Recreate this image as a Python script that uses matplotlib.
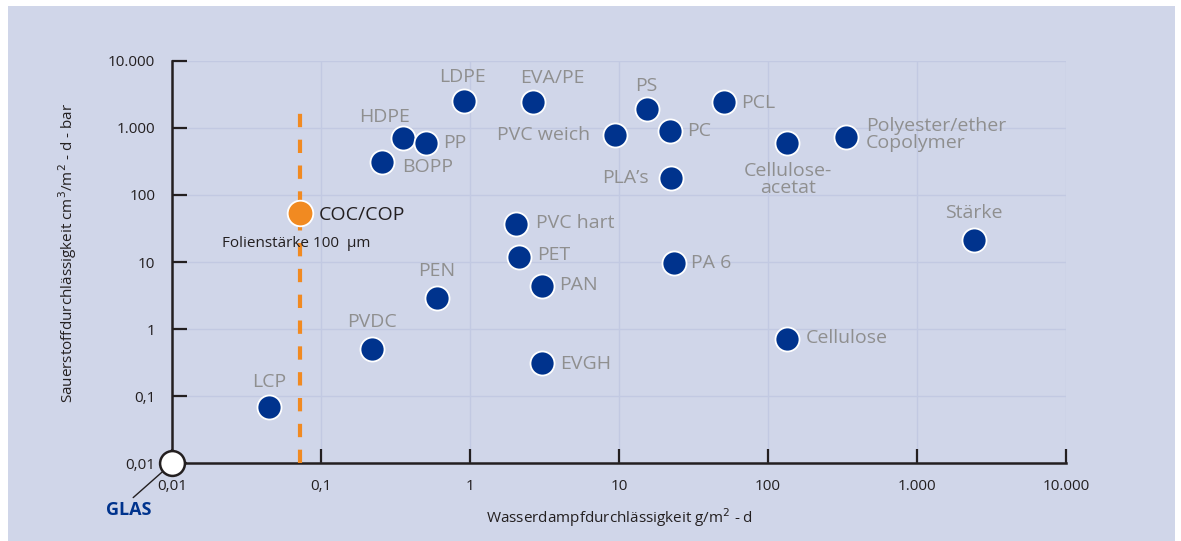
import matplotlib.pyplot as plt
from matplotlib.patches import Rectangle

plt.rcParams['font.family'] = ['Open Sans', 'DejaVu Sans']

# Wasserdampf- (x) und Sauerstoffdurchlässigkeit (y)
materials = ['LCP', 'PVDC', 'HDPE', 'BOPP', 'PP', 'LDPE', 'EVA/PE', 'PVC weich',
             'PS', 'PC', 'PCL', 'PLA\u2019s', 'Cellulose-\nacetat',
             'Polyester/ether\nCopolymer', 'Stärke', 'PVC hart', 'PET', 'PA 6',
             'PAN', 'PEN', 'EVGH', 'Cellulose']
water = [0.045, 0.22, 0.355, 0.256, 0.51, 0.91, 2.64, 9.35,
         15.3, 22.0, 51.0, 22.3, 134,
         335, 2400, 2.04, 2.14, 23.5,
         3.03, 0.60, 3.03, 134]
oxygen = [0.068, 0.505, 705, 306, 600, 2535, 2450, 781,
          1905, 896, 2400, 180, 588,
          737, 21.3, 37.2, 12.0, 9.57,
          4.39, 2.9, 0.316, 0.71]
# label offsets in pixels and alignment
label_pos = [(0, 25, 'center'), (0, 27, 'center'), (-18, 21, 'center'), (20, -5, 'left'),
             (17, 0, 'left'), (-1, 24, 'center'), (20, 24, 'center'), (-25, 0, 'right'),
             (0, 23, 'center'), (17, 0, 'left'), (17, -1, 'left'), (-22, 0, 'right'),
             (1, -36, 'center'), (20, 2, 'left'), (0, 27, 'center'), (20, 1, 'left'),
             (18, 2, 'left'), (17, 0, 'left'), (17, 1, 'left'), (0, 27, 'center'),
             (18, -1, 'left'), (19, 1, 'left')]

coc_x, coc_y = 0.0723, 53
dash_top = 1645

ticks = [0.01, 0.1, 1, 10, 100, 1000, 10000]
tick_labels = ['0,01', '0,1', '1', '10', '100', '1.000', '10.000']

bg = '#d0d6e9'
navy = '#00338d'
grey = '#8f8f8f'
orange = '#f18a21'
dark = '#231f20'

fig = plt.figure(figsize=(11.81, 5.41), dpi=100, facecolor='white')
fig.patches.append(Rectangle((8 / 1181, 0), 1167 / 1181, 535 / 541,
                             transform=fig.transFigure, facecolor=bg,
                             edgecolor='none', zorder=-10))
ax = fig.add_axes([172 / 1181, 77.7 / 541, 894 / 1181, 402.6 / 541])
ax.set_facecolor('none')
ax.set_xscale('log')
ax.set_yscale('log')
ax.set_xlim(0.01, 10000)
ax.set_ylim(0.01, 10000)

ax.set_xticks(ticks, tick_labels)
ax.set_yticks(ticks, tick_labels)
ax.minorticks_off()
ax.grid(True, color='#c2c9e2', lw=1.0, zorder=0)
for s in ['top', 'right']:
    ax.spines[s].set_visible(False)
for s in ['left', 'bottom']:
    ax.spines[s].set_color(dark)
    ax.spines[s].set_linewidth(1.8)
ax.tick_params(axis='y', direction='in', length=11, width=1.6, color=dark,
               labelsize=11, labelcolor=dark, pad=12)
ax.tick_params(axis='x', direction='in', length=10, width=1.6, color=dark,
               labelsize=11, labelcolor=dark, pad=11)

ax.set_xlabel('Wasserdampfdurchlässigkeit g/m$^2$ - d', fontsize=11, color=dark)
ax.set_ylabel('Sauerstoffdurchlässigkeit cm$^3$/m$^2$ - d - bar', fontsize=11, color=dark)
ax.xaxis.set_label_coords(0.501, -0.136)
ax.yaxis.set_label_coords(-0.117, 0.523)
ax.xaxis.label.set_va('center')
ax.yaxis.label.set_va('center')

ax.scatter(water, oxygen, s=300, color=navy, edgecolor='white', linewidth=1.3, zorder=4)
for name, x, y, (dx, dy, ha) in zip(materials, water, oxygen, label_pos):
    ax.annotate(name, (x, y), xytext=(dx, dy), textcoords='offset pixels',
                ha=ha, va='center', fontsize=14, color=grey, linespacing=0.95, zorder=5)

ax.plot([coc_x, coc_x], [0.01, dash_top], color=orange, lw=3, dashes=(3.2, 3.0), zorder=3)
ax.scatter([coc_x], [coc_y], s=340, color=orange, edgecolor='white', linewidth=1.3, zorder=4)
ax.annotate('COC/COP', (coc_x, coc_y), xytext=(19, -2), textcoords='offset pixels',
            ha='left', va='center', fontsize=14, color=dark)
ax.annotate('Folienstärke 100  µm', (coc_x, coc_y), xytext=(-78, -30), textcoords='offset pixels',
            ha='left', va='center', fontsize=11, color=dark)

ax.scatter([0.01], [0.01], s=320, color='white', edgecolor=dark, linewidth=1.8,
           zorder=6, clip_on=False)
glas = ax.annotate('GLAS', (0.01, 0.01), xytext=(-43, -47), textcoords='offset pixels',
                   ha='center', va='center', fontsize=13, fontweight='bold', color=navy,
                   arrowprops=dict(arrowstyle='-', color=dark, lw=1, shrinkA=1, shrinkB=8,
                                   relpos=(0.5, 1.0)),
                   annotation_clip=False, zorder=5)
glas.set_clip_on(False)
glas.arrow_patch.set_clip_on(False)

fig.savefig('out.png', dpi=100)
